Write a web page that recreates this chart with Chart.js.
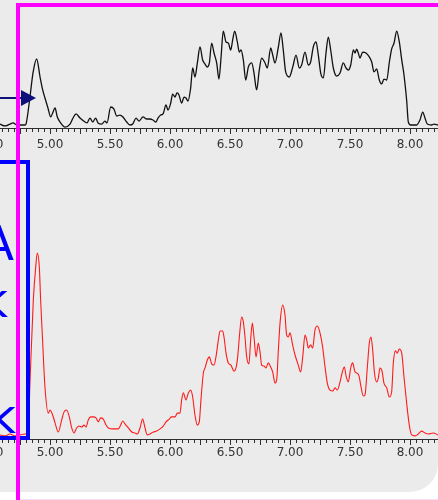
<!DOCTYPE html>
<html>
<head>
<meta charset="utf-8">
<script src="https://cdn.jsdelivr.net/npm/chart.js@4.4.1/dist/chart.umd.min.js"></script>
<style>
  html, body { margin: 0; padding: 0; width: 438px; height: 500px; overflow: hidden; background: #ffffff; }
  body { position: relative; }
  #panel { position: absolute; left: -40px; top: -40px; width: 478px; height: 532px; background: #ebebeb; border-bottom-right-radius: 28px; }
  .chartbox { position: absolute; left: -40px; width: 540px; }
  #topBox { top: 0; height: 160px; }
  #botBox { top: 180px; height: 291px; }
  #edgeLine { position: absolute; left: 20px; top: 499px; width: 420px; height: 1px; background: #f8dcf8; }
  #overlay { position: absolute; left: 0; top: 0; }
</style>
</head>
<body>
<div id="panel"></div>
<div id="edgeLine"></div>
<div class="chartbox" id="topBox"><canvas id="topChart"></canvas></div>
<div class="chartbox" id="botBox"><canvas id="botChart"></canvas></div>
<svg id="overlay" width="438" height="500" xmlns="http://www.w3.org/2000/svg">
  <rect x="-20" y="162" width="48" height="276" fill="none" stroke="#0000ff" stroke-width="4"/>
  <g fill="#0000ff" font-family="DejaVu Sans" font-size="48" text-anchor="end">
    <text x="14" y="260">A</text>
    <text x="8" y="317">k</text>
    <text x="16" y="433">k</text>
  </g>
  <line x1="0" y1="98" x2="23" y2="98" stroke="#10107d" stroke-width="2"/>
  <polygon points="21,90 36,98 21,106" fill="#10107d"/>
  <rect x="18" y="5" width="520" height="620" fill="none" stroke="#ff00ff" stroke-width="4"/>
</svg>
<script>
// Retention time (min) and detector response (% of panel full scale)
const timesTop = [4.583,4.625,4.667,4.692,4.725,4.792,4.800,4.833,4.858,4.889,4.917,4.939,4.958,4.983,5.006,5.022,5.042,5.061,5.089,5.125,
  5.167,5.192,5.217,5.250,5.292,5.308,5.333,5.356,5.381,5.400,5.431,5.458,5.475,5.506,5.533,5.556,5.583,5.608,5.639,5.667,
  5.689,5.717,5.742,5.775,5.806,5.833,5.858,5.883,5.900,5.922,5.942,5.967,5.983,6.006,6.022,6.042,6.058,6.075,6.097,6.117,
  6.133,6.150,6.172,6.189,6.208,6.228,6.250,6.272,6.292,6.311,6.328,6.347,6.367,6.389,6.408,6.425,6.444,6.467,6.486,6.506,
  6.522,6.539,6.561,6.578,6.592,6.611,6.631,6.653,6.681,6.700,6.722,6.744,6.764,6.792,6.811,6.839,6.856,6.875,6.903,6.925,
  6.944,6.964,6.994,7.025,7.050,7.078,7.097,7.125,7.153,7.172,7.194,7.217,7.236,7.256,7.278,7.300,7.319,7.339,7.361,7.389,
  7.417,7.444,7.467,7.486,7.506,7.528,7.542,7.556,7.569,7.583,7.606,7.633,7.661,7.681,7.700,7.722,7.744,7.764,7.783,7.806,
  7.828,7.847,7.867,7.889,7.911,7.931,7.950,7.972,7.986,8.006,8.056,8.083,8.106,8.125,8.144,8.181,8.200,8.233];
const signalTop = [3.3,1.7,3.3,4.2,2.5,2.5,3.3,25.8,45.8,57.5,42.5,31.7,25.0,16.7,9.2,12.5,16.7,9.2,4.2,0.8,
  3.3,8.3,11.7,8.3,5.0,4.2,8.3,5.0,8.3,4.2,3.3,5.8,4.2,17.5,15.8,10.0,10.8,9.2,5.0,2.5,
  3.3,8.3,5.8,9.2,7.5,7.5,6.7,5.0,8.3,10.8,11.7,19.2,15.0,20.8,28.3,25.8,29.2,27.5,20.8,25.8,
  25.0,22.5,33.3,50.0,42.5,54.2,67.5,56.7,53.3,50.8,54.2,70.8,62.5,54.2,40.8,58.3,80.8,71.7,70.8,65.0,
  73.3,80.8,71.7,63.3,65.0,56.7,40.0,50.8,54.2,45.8,31.7,48.3,58.3,54.2,50.0,66.7,60.8,54.2,67.5,79.2,
  65.0,46.7,42.5,51.7,60.8,50.0,52.5,63.3,52.5,55.0,67.5,71.7,60.8,45.8,41.7,62.5,75.8,65.0,50.0,43.3,
  45.8,54.2,50.0,48.3,52.5,65.0,62.5,65.8,62.5,58.3,63.3,62.5,59.2,55.0,46.7,49.2,40.0,36.7,40.8,40.0,
  55.0,65.8,70.8,80.8,71.7,56.7,44.2,23.3,5.0,2.5,2.5,6.7,13.3,8.3,3.3,2.5,3.3,2.5];

const timesBottom = [4.583,4.625,4.667,4.708,4.750,4.792,4.817,4.833,4.861,4.881,4.894,4.911,4.922,4.938,4.958,4.986,5.000,5.022,5.042,5.069,
  5.097,5.117,5.139,5.161,5.181,5.200,5.222,5.242,5.264,5.283,5.300,5.319,5.339,5.361,5.383,5.403,5.422,5.444,5.467,5.486,
  5.528,5.569,5.589,5.606,5.625,5.653,5.681,5.708,5.728,5.750,5.772,5.792,5.811,5.833,5.861,5.889,5.917,5.944,5.967,5.994,
  6.014,6.042,6.061,6.083,6.097,6.111,6.133,6.153,6.172,6.189,6.208,6.228,6.244,6.258,6.278,6.292,6.311,6.328,6.347,6.367,
  6.383,6.403,6.417,6.439,6.450,6.467,6.486,6.508,6.533,6.550,6.564,6.578,6.597,6.611,6.625,6.639,6.658,6.672,6.686,6.700,
  6.717,6.736,6.750,6.764,6.783,6.800,6.819,6.839,6.856,6.875,6.889,6.903,6.917,6.939,6.958,6.972,6.986,7.000,7.022,7.042,
  7.069,7.089,7.106,7.125,7.139,7.153,7.172,7.189,7.208,7.228,7.250,7.272,7.292,7.311,7.333,7.356,7.375,7.394,7.417,7.436,
  7.453,7.467,7.486,7.506,7.522,7.542,7.556,7.575,7.592,7.611,7.625,7.644,7.661,7.675,7.689,7.703,7.722,7.736,7.750,7.767,
  7.783,7.806,7.828,7.847,7.861,7.878,7.894,7.911,7.931,7.950,7.972,7.994,8.014,8.042,8.069,8.097,8.125,8.153,8.194,8.233];
const signalBottom = [1.7,1.3,2.1,1.3,1.7,2.1,2.5,23.3,57.9,71.7,77.5,71.7,57.9,41.3,21.7,10.8,12.1,10.0,6.7,2.9,
  7.9,11.3,12.1,9.2,4.6,2.5,4.6,5.4,5.0,5.8,5.0,7.9,9.2,9.2,8.8,7.1,8.8,8.3,5.8,4.6,
  4.2,4.2,5.8,7.5,6.3,4.6,2.9,2.5,2.1,4.6,8.3,4.6,1.7,2.1,2.9,3.3,4.2,5.4,7.1,8.3,
  9.2,9.2,10.8,10.8,16.3,19.2,16.3,19.2,20.4,17.5,10.0,5.8,7.1,16.3,27.5,29.6,32.9,34.2,31.3,30.8,
  34.2,41.3,45.0,45.0,42.5,35.8,31.7,30.8,28.3,29.6,34.2,42.5,50.8,48.8,42.5,34.2,31.3,41.3,48.3,42.5,
  34.2,40.0,36.3,30.8,30.4,29.6,31.7,30.0,27.9,23.3,24.6,37.1,48.3,55.8,51.7,43.3,42.5,44.2,39.2,35.0,
  30.8,27.9,34.2,43.3,41.3,37.9,39.2,37.9,45.4,47.1,44.2,38.3,30.0,23.3,20.4,20.0,21.3,20.4,23.8,27.9,
  30.0,26.3,23.8,29.6,31.7,27.9,27.5,26.3,21.7,17.9,18.3,29.6,40.0,42.5,37.1,27.9,23.8,25.4,29.6,28.3,
  23.3,21.3,17.5,19.6,31.7,36.7,35.8,37.5,35.8,25.8,15.0,5.8,1.7,1.3,2.1,3.3,2.5,2.1,2.5,1.7];

// Axis labels and tick spacing
const labelTimes = [4.5, 5.0, 5.5, 6.0, 6.5, 7.0, 7.5, 8.0, 8.5];
const labelTexts = ['4.50','5.00','5.50','6.00','6.50','7.00','7.50','8.00','8.50'];
const minorStep = 0.05;
const majorStep = 0.25;
const xMin = 4.25, xMax = 8.75;

const axisColor = '#2e2e2e';

function nearMultiple(v, step) {
  const r = v / step;
  return Math.abs(r - Math.round(r)) < 1e-6;
}

function buildMinorTicks() {
  const out = [];
  for (let i = Math.ceil(xMin / minorStep - 1e-9); i * minorStep <= xMax + 1e-9; i++) {
    out.push({ value: +(i * minorStep).toFixed(2) });
  }
  return out;
}

// Short minor ticks, longer ticks every quarter minute
const tickMarks = {
  id: 'tickMarks',
  afterDraw(chart) {
    const sc = chart.scales.x;
    const ctx = chart.ctx;
    ctx.save();
    ctx.strokeStyle = axisColor;
    ctx.lineWidth = 1;
    sc.ticks.forEach(t => {
      const px = Math.round(sc.getPixelForValue(t.value)) + 0.5;
      const len = nearMultiple(t.value, majorStep) ? 6 : 4;
      ctx.beginPath();
      ctx.moveTo(px, sc.top);
      ctx.lineTo(px, sc.top + len);
      ctx.stroke();
    });
    ctx.restore();
  }
};

function makeChart(id, times, signal, color, width, topPad, labelPad) {
  const pts = times.map((t, i) => ({ x: t, y: signal[i] }));
  return new Chart(document.getElementById(id), {
    type: 'line',
    data: { datasets: [{
      data: pts,
      borderColor: color,
      borderWidth: width,
      pointRadius: 0,
      fill: false,
      cubicInterpolationMode: 'monotone'
    }] },
    options: {
      responsive: true,
      maintainAspectRatio: false,
      animation: false,
      layout: { padding: { top: topPad, left: 0, right: 0, bottom: 0 } },
      plugins: { legend: { display: false }, tooltip: { enabled: false } },
      scales: {
        x: {
          type: 'linear',
          min: xMin,
          max: xMax,
          afterBuildTicks: s => { s.ticks = buildMinorTicks(); },
          afterFit: s => { s.height = 32; s.paddingLeft = 0; s.paddingRight = 0; },
          grid: { display: false },
          border: { display: true, color: axisColor, width: 1 },
          ticks: {
            autoSkip: false,
            maxRotation: 0,
            padding: labelPad,
            color: '#333333',
            font: { family: 'DejaVu Sans', size: 12 },
            callback: v => {
              const k = labelTimes.findIndex(l => Math.abs(l - v) < 1e-6);
              return k >= 0 ? labelTexts[k] : '';
            }
          }
        },
        y: { display: false, min: 0, max: 100 }
      }
    },
    plugins: [tickMarks]
  });
}

makeChart('topChart', timesTop, signalTop, '#111111', 1.3, 8, 2);
makeChart('botChart', timesBottom, signalBottom, '#ff1a1a', 1.1, 19, -1);
</script>
</body>
</html>
